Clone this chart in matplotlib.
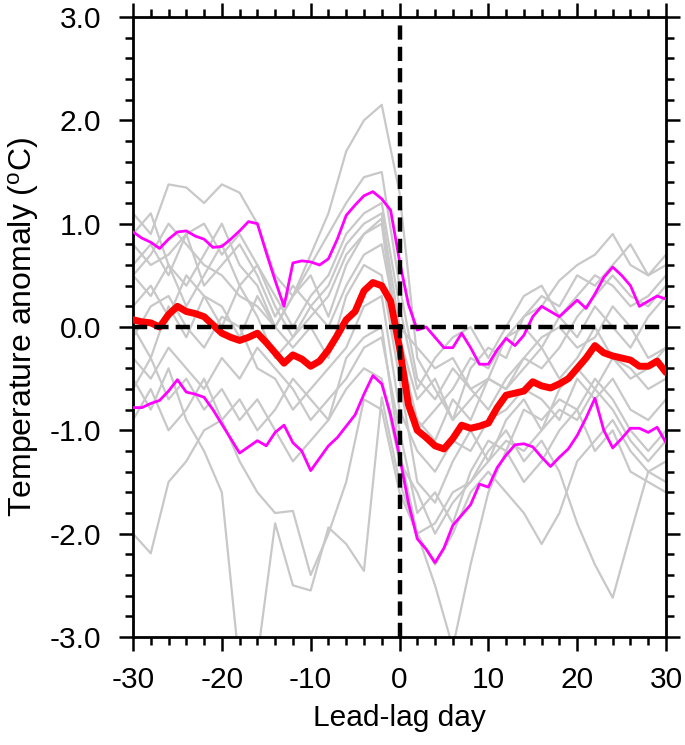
import matplotlib
matplotlib.use("Agg")
import matplotlib.pyplot as plt
import numpy as np
from matplotlib.ticker import MultipleLocator, FormatStrFormatter

plt.rcParams['font.family'] = ['Liberation Sans', 'DejaVu Sans']
plt.rcParams['axes.unicode_minus'] = False
plt.rcParams['mathtext.default'] = 'regular'

# ---------------- data ----------------
days = list(range(-30, 31))
days2 = list(range(-30, 31, 2))

mean_line = [0.07, 0.05, 0.04, 0.00, 0.12, 0.20, 0.15, 0.13, 0.10, 0.02,
             -0.06, -0.10, -0.13, -0.10, -0.06, -0.15, -0.25, -0.35, -0.27, -0.31,
             -0.38, -0.33, -0.22, -0.08, 0.07, 0.15, 0.35, 0.43, 0.40, 0.25,
             -0.20, -0.75, -1.00, -1.07, -1.15, -1.18, -1.08, -0.95, -0.98, -0.96,
             -0.93, -0.78, -0.66, -0.64, -0.62, -0.53, -0.57, -0.59, -0.55, -0.50,
             -0.40, -0.30, -0.18, -0.25, -0.28, -0.30, -0.32, -0.38, -0.38, -0.33,
             -0.44]

upper_line = [0.92, 0.86, 0.82, 0.76, 0.85, 0.92, 0.93, 0.88, 0.85, 0.77,
              0.78, 0.85, 0.93, 1.02, 1.00, 0.72, 0.45, 0.20, 0.62, 0.64,
              0.63, 0.60, 0.66, 0.85, 1.08, 1.18, 1.27, 1.31, 1.24, 1.13,
              0.64, 0.22, -0.03, 0.00, -0.10, -0.20, -0.20, -0.06, -0.20, -0.36,
              -0.36, -0.22, -0.11, -0.18, -0.08, 0.10, 0.20, 0.15, 0.10, 0.18,
              0.26, 0.18, 0.32, 0.48, 0.58, 0.50, 0.40, 0.20, 0.25, 0.30,
              0.27]

lower_line = [-0.78, -0.78, -0.74, -0.71, -0.62, -0.51, -0.63, -0.65, -0.68, -0.80,
              -0.94, -1.08, -1.22, -1.16, -1.10, -1.15, -1.02, -0.95, -1.12, -1.20,
              -1.39, -1.27, -1.15, -1.07, -0.96, -0.85, -0.65, -0.47, -0.55, -0.85,
              -1.25, -1.70, -2.05, -2.15, -2.28, -2.14, -1.92, -1.82, -1.72, -1.52,
              -1.55, -1.36, -1.24, -1.14, -1.13, -1.16, -1.26, -1.35, -1.26, -1.18,
              -1.05, -0.88, -0.69, -1.00, -1.17, -1.08, -0.98, -0.98, -1.02, -0.97,
              -1.12]

members = [
    [0.5, 0.7, 1.0, 0.8, 0.6, 0.5, 0.3, 0.2, 0.0, 0.3, 0.7, 1.1, 1.7, 2.0, 2.15, 1.3,
     -0.3, -0.6, -0.9, -0.7, -0.5, -0.6, -0.3, -0.1, 0.0, -0.2, -0.1, 0.2, 0.0, -0.3, -0.2],
    [1.1, 0.9, 1.38, 1.35, 1.2, 1.38, 1.3, 1.0, 0.5, 0.3, 0.6, 0.9, 1.2, 1.45, 1.5, 0.4,
     -0.5, -0.7, -0.4, -0.6, -0.8, -0.5, -0.3, -0.4, -0.2, 0.1, 0.3, 0.5, 0.3, 0.2, 0.4],
    [0.8, 0.6, 0.7, 0.9, 1.0, 0.7, 0.9, 0.6, 0.2, -0.1, 0.2, 0.4, 0.8, 1.0, 1.1, 0.0,
     -0.2, -0.4, -0.3, -0.6, -0.5, -0.1, 0.1, 0.2, 0.45, 0.6, 0.7, 0.9, 0.6, 0.5, 0.7],
    [0.5, 0.3, 0.6, 0.4, 0.7, 1.0, 0.6, 0.4, 0.0, 0.3, 0.5, 0.1, 0.6, 0.9, 1.05, -0.2,
     -0.9, -1.1, -0.7, -0.9, -0.5, -0.6, -0.4, -0.2, -0.5, -0.3, 0.0, -0.3, -0.5, -0.4, -0.2],
    [0.2, 0.4, 0.1, 0.5, 0.3, 0.2, -0.1, 0.3, 0.0, -0.2, 0.0, -0.3, 0.3, 0.6, 0.5, -0.5,
     -1.5, -1.7, -1.3, -1.0, -1.3, -0.9, -0.7, -1.0, -0.6, -0.4, -0.6, -0.3, -0.4, -0.6, -0.5],
    [-0.1, 0.2, 0.3, 0.0, -0.2, 0.1, 0.0, -0.4, -0.5, -0.8, -0.6, -0.4, -0.2, 0.2, 0.3, -0.8,
     -1.2, -1.4, -1.1, -1.2, -0.9, -0.8, -0.6, -0.7, -0.9, -0.5, -0.7, -0.5, -0.8, -0.9, -0.7],
    [-0.3, -0.5, -0.2, -0.4, -0.6, -0.3, -0.5, -0.2, -0.4, -0.6, -0.9, -0.7, -0.5, -0.2, -0.1, -1.0,
     -1.8, -1.6, -1.9, -1.4, -1.1, -1.2, -0.8, -0.9, -0.7, -0.8, -0.5, -0.7, -1.0, -1.2, -1.0],
    [-2.0, -2.19, -1.5, -1.3, -1.0, -0.9, -1.3, -1.6, -1.8, -1.78, -2.4, -2.0, -1.5, -0.7, -0.8, -1.6,
     -2.0, -1.9, -1.6, -1.5, -1.3, -1.1, -1.2, -1.0, -0.8, -0.9, -0.6, -0.8, -1.1, -1.3, -1.1],
    [-0.5, -0.8, -0.4, -0.9, -1.2, -1.6, -3.3, -3.2, -1.9, -2.5, -2.55, -1.94, -2.1, -2.36, -0.68, -1.5,
     -2.0, -2.5, -3.1, -2.3, -1.6, -1.2, -1.5, -1.3, -1.0, -0.8, -1.2, -1.0, -1.4, -1.5, -1.6],
    [0.0, -0.3, 0.2, -0.1, 0.3, 0.0, 0.4, 0.1, -0.3, -0.1, 0.1, 0.3, 0.7, 0.9, 1.0, -0.3,
     -1.0, -0.8, -0.6, -0.3, -0.4, -0.1, 0.0, -0.2, 0.1, -0.1, 0.2, 0.0, -0.2, 0.1, 0.3],
    [0.6, 0.8, 0.5, 0.9, 0.4, 0.6, 0.8, 0.5, 0.1, 0.4, 0.2, 0.0, 0.4, 0.7, 0.8, -0.1,
     -0.7, -0.5, -0.9, -0.4, -0.2, -0.3, 0.1, 0.3, 0.2, 0.5, 0.4, 0.6, 0.8, 0.5, 0.6],
    [-0.6, -0.3, -0.7, -0.5, -0.8, -0.6, -0.9, -0.7, -1.0, -1.3, -1.1, -0.9, -0.6, -0.4, -0.5, -1.3,
     -1.6, -2.0, -1.7, -1.5, -1.2, -1.0, -1.3, -1.1, -1.4, -1.9, -2.3, -2.62, -2.0, -1.4, -1.5],
    [-0.9, -0.6, -1.0, -0.8, -0.5, -0.9, -0.7, -1.0, -0.8, -0.5, -0.7, -0.9, -0.3, -0.1, 0.0, -1.2,
     -2.0, -2.3, -2.0, -1.6, -1.4, -1.6, -1.8, -2.1, -1.8, -1.3, -1.1, -0.9, -1.2, -1.4, -1.3],
    [0.9, 1.1, 0.6, 0.2, 0.5, 0.8, 0.4, 0.6, 0.3, 0.0, 0.3, 0.5, 0.9, 1.1, 1.2, 0.2,
     -0.6, -0.3, -0.1, 0.0, -0.3, 0.0, 0.3, 0.4, 0.1, 0.3, 0.5, 0.4, 0.2, 0.3, 0.5],
]

x_ticks = [-30, -20, -10, 0, 10, 20, 30]
y_ticks = [-3.0, -2.0, -1.0, 0.0, 1.0, 2.0, 3.0]

# ---------------- figure ----------------
fig = plt.figure(figsize=(6.85, 7.45), dpi=100)
ax = fig.add_axes([133/685, 1 - 637/745, 533/685, 620/745])

for m in members:
    ax.plot(days2, m, color='#c8c8c8', lw=1.6, zorder=1)

ax.plot(days, upper_line, color='#ff00ff', lw=2.0, zorder=3)
ax.plot(days, lower_line, color='#ff00ff', lw=2.0, zorder=3)
ax.plot(days, mean_line, color='#ff0000', lw=5.0, zorder=4,
        solid_joinstyle='round', solid_capstyle='round')

ax.axhline(0, color='black', lw=3.2, ls=(0, (3.2, 1.6)), zorder=5)
ax.axvline(0, color='black', lw=3.2, ls=(0, (3.2, 1.6)), zorder=5)

ax.set_xlim(-30, 30)
ax.set_ylim(-3, 3)
ax.set_xticks(x_ticks)
ax.set_yticks(y_ticks)
ax.xaxis.set_minor_locator(MultipleLocator(2))
ax.yaxis.set_minor_locator(MultipleLocator(0.2))
ax.yaxis.set_major_formatter(FormatStrFormatter('%.1f'))

ax.tick_params(which='both', direction='out', top=True, right=True,
               labeltop=False, labelright=False, width=1.8, color='black')
ax.tick_params(which='major', length=10, labelsize=21.5)
ax.tick_params(which='minor', length=5.5)
ax.tick_params(axis='x', which='major', pad=11)
ax.tick_params(axis='y', which='major', pad=13)
for s in ax.spines.values():
    s.set_linewidth(2.0)

ax.set_xlabel('Lead-lag day', fontsize=21.5, labelpad=7)
ax.set_ylabel('Temperature anomaly ($^{o}$C)', fontsize=23, labelpad=6)

fig.savefig('out.png', dpi=100)
